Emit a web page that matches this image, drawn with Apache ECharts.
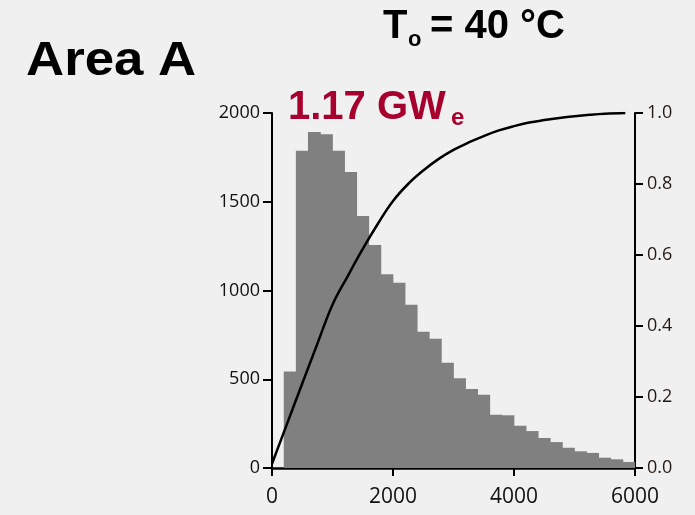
<!DOCTYPE html>
<html>
<head>
<meta charset="utf-8">
<script src="https://cdn.jsdelivr.net/npm/echarts@6/dist/echarts.min.js"></script>
<style>
  html, body { margin: 0; padding: 0; background: #f0f0f0; }
  #chart { width: 695px; height: 515px; }
</style>
</head>
<body>
<div id="chart"></div>
<script>
// histogram bins (width 200), left axis counts
var binStart = [0, 200, 400, 600, 800, 1000, 1200, 1400, 1600, 1800,
                2000, 2200, 2400, 2600, 2800, 3000, 3200, 3400, 3600, 3800,
                4000, 4200, 4400, 4600, 4800, 5000, 5200, 5400, 5600, 5800];
var counts = [0, 544, 1788, 1893, 1880, 1788, 1668, 1420, 1256, 1091,
              1044, 920, 768, 728, 593, 505, 445, 413, 300, 297,
              238, 208, 169, 146, 114, 94, 85, 58, 49, 34];

// cumulative curve, right axis
var cdfX = [0, 250, 500, 750, 1000, 1250, 1500, 1750, 2000, 2250, 2500, 2750, 3000,
            3250, 3500, 3750, 4000, 4250, 4500, 4750, 5000, 5250, 5500, 5840];
var cdfY = [0.012, 0.125, 0.238, 0.35, 0.46, 0.54, 0.617, 0.688, 0.752, 0.80, 0.838, 0.87, 0.896,
            0.917, 0.935, 0.951, 0.963, 0.973, 0.98, 0.986, 0.991, 0.995, 0.998, 1.0];

var xTicks = [0, 6000, 2000];      // min, max, step
var leftTicks = [0, 2000, 500];
var rightTicks = [0, 1, 0.2];

var myChart = echarts.init(document.getElementById('chart'));

var lineData = cdfX.map(function (x, i) { return [x, cdfY[i]]; });
var tickFont = '"Open Sans", sans-serif';
var boldFont = '"Liberation Sans", Arial, sans-serif';

var option = {
    backgroundColor: '#f0f0f0',
    animation: false,
    grid: { left: 272, right: 60, top: 113, bottom: 47 },
    xAxis: [
        {
            type: 'value',
            min: xTicks[0], max: xTicks[1], interval: xTicks[2],
            splitLine: { show: false },
            axisLine: { lineStyle: { color: '#000', width: 2.5 } },
            axisTick: { show: true, length: 8, lineStyle: { color: '#000', width: 2 } },
            axisLabel: {
                color: '#111', fontSize: 21, fontFamily: tickFont, margin: 19,
                formatter: function (v) { return String(v); }
            }
        },
        {
            type: 'category',
            data: binStart,
            show: false,
            boundaryGap: true
        }
    ],
    yAxis: [
        {
            type: 'value',
            min: leftTicks[0], max: leftTicks[1], interval: leftTicks[2],
            splitLine: { show: false },
            axisLine: { show: true, lineStyle: { color: '#000', width: 2 } },
            axisTick: { show: true, length: 9, lineStyle: { color: '#000', width: 2 } },
            axisLabel: {
                color: '#111', fontSize: 18, fontFamily: tickFont, margin: 12,
                formatter: function (v) { return String(v); }
            }
        },
        {
            type: 'value',
            position: 'right',
            min: rightTicks[0], max: rightTicks[1], interval: rightTicks[2],
            splitLine: { show: false },
            axisLine: { show: true, lineStyle: { color: '#000', width: 2 } },
            axisTick: { show: true, length: 8, lineStyle: { color: '#000', width: 2 } },
            axisLabel: {
                color: '#221a14', fontSize: 18, fontFamily: tickFont, margin: 12,
                formatter: function (v) { return v.toFixed(1); }
            }
        }
    ],
    series: [
        {
            type: 'bar',
            xAxisIndex: 1,
            yAxisIndex: 0,
            data: counts,
            barWidth: 12.8,
            barCategoryGap: 0,
            itemStyle: { color: '#808080' },
            z: 1
        },
        {
            type: 'line',
            xAxisIndex: 0,
            yAxisIndex: 1,
            data: lineData,
            smooth: 0.4,
            showSymbol: false,
            lineStyle: { color: '#000', width: 2.5 },
            z: 3
        }
    ],
    graphic: [
        {
            type: 'text', x: 26, y: 38, scaleX: 1.1,
            style: { text: 'Area A', font: 'bold 48px ' + boldFont, fill: '#000' }
        },
        {
            type: 'text', x: 383, y: 7,
            style: { text: 'T', font: 'bold 40px ' + boldFont, fill: '#000' }
        },
        {
            type: 'text', x: 408, y: 29,
            style: { text: 'o', font: 'bold 22px ' + boldFont, fill: '#000' }
        },
        {
            type: 'text', x: 430, y: 7,
            style: { text: '= 40 °C', font: 'bold 40px ' + boldFont, fill: '#000' }
        },
        {
            type: 'text', x: 288, y: 88,
            style: { text: '1.17 GW', font: 'bold 40px ' + boldFont, fill: '#a8002e' }
        },
        {
            type: 'text', x: 451, y: 106,
            style: { text: 'e', font: 'bold 24px ' + boldFont, fill: '#a8002e' }
        }
    ]
};

myChart.setOption(option);
</script>
</body>
</html>
